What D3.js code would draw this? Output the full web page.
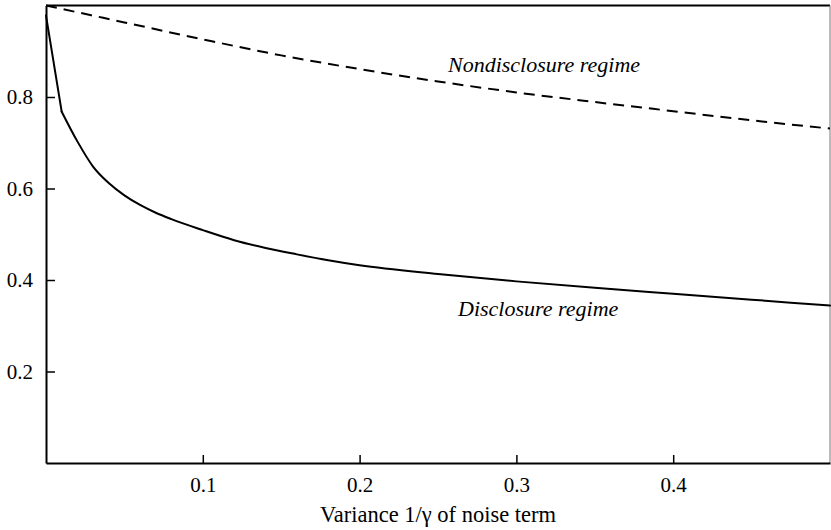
<!DOCTYPE html>
<html>
<head>
<meta charset="utf-8">
<script src="https://cdn.jsdelivr.net/npm/d3@7"></script>
<style>
  html, body { margin: 0; padding: 0; background: #fff; }
  svg { display: block; }
  svg text { font-family: "Liberation Serif", "Times New Roman", "DejaVu Serif", serif !important; fill: #000; }
</style>
</head>
<body>
<svg id="chart" width="831" height="530"></svg>
<script>
// ---- data ----
const disclosureX = [0, 0.01, 0.02, 0.03, 0.04, 0.05, 0.06, 0.07, 0.08, 0.10, 0.12, 0.14, 0.16, 0.18, 0.20, 0.25, 0.30, 0.35, 0.40, 0.45, 0.50];
const disclosureY = [0.978, 0.768, 0.703, 0.648, 0.612, 0.585, 0.564, 0.547, 0.533, 0.509, 0.487, 0.470, 0.456, 0.443, 0.432, 0.413, 0.397, 0.383, 0.370, 0.357, 0.344];
const nondisclosureX = [0, 0.05, 0.10, 0.15, 0.20, 0.25, 0.30, 0.35, 0.40, 0.45, 0.50];
const nondisclosureY = [1.0, 0.963, 0.926, 0.891, 0.861, 0.834, 0.810, 0.789, 0.769, 0.749, 0.731];
const xTicks = [0.1, 0.2, 0.3, 0.4];
const yTicks = [0.2, 0.4, 0.6, 0.8];
const xTitle = "Variance 1/\u03B3 of noise term";
const label1 = "Nondisclosure regime";
const label2 = "Disclosure regime";

const svg = d3.select("#chart").attr("font-family", "Liberation Serif, serif");
const x = d3.scaleLinear().domain([0, 0.5]).range([46, 830]);
const y = d3.scaleLinear().domain([0, 1]).range([463, 5.5]);

// frame top & right
svg.append("line").attr("x1", x(0)).attr("x2", x(0.5)).attr("y1", y(1)).attr("y2", y(1))
  .attr("stroke", "#000").attr("stroke-width", 2);
svg.append("line").attr("x1", x(0.5)).attr("x2", x(0.5)).attr("y1", y(1)).attr("y2", y(0))
  .attr("stroke", "#777").attr("stroke-width", 1);

// x axis
const gx = svg.append("g").attr("transform", `translate(0,${y(0)})`)
  .call(d3.axisBottom(x).tickValues(xTicks).tickFormat(d3.format(".1f"))
    .tickSize(-8).tickSizeOuter(0).tickPadding(14));
// y axis
const gy = svg.append("g").attr("transform", `translate(${x(0)},0)`)
  .call(d3.axisLeft(y).tickValues(yTicks).tickFormat(d3.format(".1f"))
    .tickSize(-9).tickSizeOuter(0).tickPadding(13));

[gx, gy].forEach(g => {
  g.attr("font-family", "Liberation Serif, serif").attr("font-size", 21);
  g.select(".domain").attr("stroke", "#000").attr("stroke-width", 2);
  g.selectAll(".tick line").attr("stroke", "#000").attr("stroke-width", 1.5);
  g.selectAll(".tick text").style("font-size", "21px").attr("fill", "#000");
});

const linear = d3.line().x(d => x(d[0])).y(d => y(d[1]));
const smooth = d3.line().x(d => x(d[0])).y(d => y(d[1])).curve(d3.curveMonotoneX);

svg.append("path")
  .datum(nondisclosureX.map((v, i) => [v, nondisclosureY[i]]))
  .attr("d", smooth).attr("fill", "none").attr("stroke", "#000")
  .attr("stroke-width", 2).attr("stroke-dasharray", "11,7");

const disc = disclosureX.map((v, i) => [v, disclosureY[i]]);
// first sampled segment is straight in the reference, the rest is smooth
svg.append("path").datum(disc.slice(0, 2))
  .attr("d", linear).attr("fill", "none").attr("stroke", "#000")
  .attr("stroke-width", 2).attr("stroke-linecap", "round");
svg.append("path").datum(disc.slice(1))
  .attr("d", smooth).attr("fill", "none").attr("stroke", "#000")
  .attr("stroke-width", 2).attr("stroke-linecap", "round");

// curve labels
svg.append("text").attr("x", 448).attr("y", 72)
  .style("font-style", "italic").style("font-size", "22px").text(label1);
svg.append("text").attr("x", 458).attr("y", 316)
  .style("font-style", "italic").style("font-size", "22px").text(label2);

// x title
svg.append("text").attr("x", (x(0) + x(0.5)) / 2).attr("y", 522)
  .attr("text-anchor", "middle").style("font-size", "22.5px").text(xTitle);
</script>
</body>
</html>
